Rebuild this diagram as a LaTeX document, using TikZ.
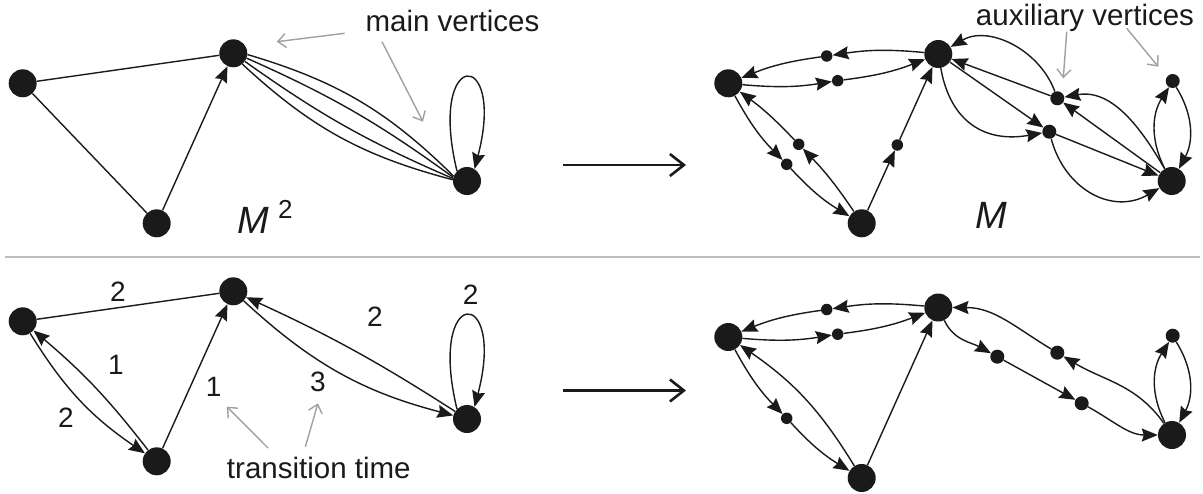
\documentclass[tikz,border=0pt]{standalone}
\usepackage{fontspec}
\setmainfont{Liberation Sans}
\usetikzlibrary{arrows.meta}
\definecolor{nodecol}{RGB}{26,26,26}
\definecolor{graycol}{RGB}{160,160,160}
\definecolor{divcol}{RGB}{190,190,190}
\begin{document}
\begin{tikzpicture}[x=1pt,y=-1pt,
  mainv/.style={circle,fill=nodecol,inner sep=0pt,minimum size=28pt},
  auxs/.style={circle,fill=nodecol,inner sep=0pt,minimum size=11.5pt},
  auxl/.style={circle,fill=nodecol,inner sep=0pt,minimum size=14pt},
  edge/.style={draw=nodecol,line width=1.4pt},
  arr/.style={draw=nodecol,line width=1.4pt,-{Stealth[length=16pt,width=13pt,inset=2pt]}},
  garrow/.style={draw=graycol,line width=1.4pt,-{Straight Barb[length=8pt,width=14pt]}},
  bigarrow/.style={draw=nodecol,line width=2.6pt,-{Straight Barb[length=14pt,width=22pt]}},
  lbl/.style={font=\fontsize{29.5}{34}\selectfont,inner sep=0pt,text=nodecol},
  num/.style={font=\fontsize{28}{32}\selectfont,inner sep=0pt,text=nodecol},
]
\useasboundingbox (0,0) rectangle (1203,493);

% ---------- divider and big arrows ----------
\coordinate (dl) at (5,256.7);
\coordinate (dr) at (1200,256.7);
\draw[divcol,line width=1.6pt] (dl) -- (dr);
\coordinate (bas) at (563,165); \coordinate (bae) at (686,165);
\draw[bigarrow] (bas) -- (bae);
\coordinate (bbs) at (563,390.5); \coordinate (bbe) at (686,390.5);
\draw[bigarrow] (bbs) -- (bbe);

% ---------- top-left: M^2 ----------
\node[mainv] (a1) at (22.7,83.3) {};
\node[mainv] (b1) at (233.3,53.3) {};
\node[mainv] (c1) at (156.7,223.3) {};
\node[mainv] (d1) at (467,181) {};
\draw[edge] (a1) -- (b1);
\draw[edge] (a1) -- (c1);
\draw[arr] (c1) -- (b1);
\draw[edge] (b1.-5) to[bend left=14] (d1.160);
\draw[edge] (b1.-20) to[bend left=6] (d1.165);
\draw[edge] (b1.-35) to[bend right=6] (d1.170);
\draw[edge] (b1.-50) to[bend right=14] (d1.175);
\draw[arr] (d1.135) .. controls +(-30,-124) and +(32,-122) .. (d1.58);
\node[anchor=base west,inner sep=0pt,font=\fontsize{38}{42}\selectfont\itshape,text=nodecol] (m2) at (237,233) {M};
\node[anchor=base west,inner sep=0pt,font=\fontsize{26}{30}\selectfont,text=nodecol] (m2s) at (278,218) {2};
\node[lbl,anchor=base] (tmain) at (452.5,31) {main vertices};
\coordinate (g1s) at (344.6,33.3); \coordinate (g1e) at (276.8,41.7);
\coordinate (g2s) at (382,41.7); \coordinate (g2e) at (423,121.7);
\draw[garrow] (g1s) -- (g1e);
\draw[garrow] (g2s) -- (g2e);

% ---------- top-right: M ----------
\node[mainv] (a2) at (728.3,83.3) {};
\node[mainv] (b2) at (938.3,54) {};
\node[mainv] (c2) at (861.7,223.3) {};
\node[mainv] (d2) at (1171.7,181) {};
\node[auxs] (ua) at (826.7,56) {};
\node[auxs] (ub) at (837.7,80.7) {};
\node[auxs] (uc) at (786.7,164.3) {};
\node[auxs] (ud) at (798.7,144.3) {};
\node[auxs] (ue) at (897.3,145) {};
\node[auxl] (u1) at (1057.3,98.3) {};
\node[auxl] (u2) at (1049.3,131.7) {};
\node[auxl] (u3) at (1172.7,81) {};
\draw[arr] (b2) to[bend right=7] (ua);
\draw[arr] (ua) to[bend right=7] (a2);
\draw[arr] (a2) to[bend right=7] (ub);
\draw[arr] (ub) to[bend right=7] (b2);
\draw[arr] (a2) to[bend right=8] (uc);
\draw[arr] (uc) to[bend right=8] (c2);
\draw[arr] (c2) to[bend right=5] (ud);
\draw[arr] (ud) to[bend right=5] (a2);
\draw[arr] (c2) -- (ue);
\draw[arr] (ue) -- (b2);
\draw[arr] (b2) -- (u2);
\draw[arr] (b2) to[out=-80,in=190,looseness=1.2] (u2);
\draw[arr] (u2) -- (d2);
\draw[arr] (u2) to[out=-75,in=210,looseness=1.15] (d2);
\draw[arr] (d2) -- (u1);
\draw[arr] (d2) to[out=120,in=10] (u1);
\draw[arr] (u1) -- (b2);
\draw[arr] (u1) to[out=110,in=30] (b2);
\draw[arr] (d2) to[bend left=30] (u3);
\draw[arr] (u3) to[bend left=30] (d2);
\node[anchor=base west,inner sep=0pt,font=\fontsize{38}{42}\selectfont\itshape,text=nodecol] (mm) at (975,228) {M};
\node[lbl,anchor=base] (taux) at (1085,25) {auxiliary vertices};
\coordinate (g3s) at (1066.7,31.7); \coordinate (g3e) at (1063.3,78.3);
\coordinate (g4s) at (1126.7,28.3); \coordinate (g4e) at (1158.3,66.7);
\draw[garrow] (g3s) -- (g3e);
\draw[garrow] (g4s) -- (g4e);

% ---------- bottom-left: transition times ----------
\node[mainv] (a4) at (22.7,321.3) {};
\node[mainv] (b4) at (233.3,291.3) {};
\node[mainv] (c4) at (156.7,461.3) {};
\node[mainv] (d4) at (467,419) {};
\draw[edge] (a4) -- (b4);
\draw[arr] (a4) to[bend right=12] (c4);
\draw[arr] (c4) to[bend right=6] (a4);
\draw[arr] (c4) -- (b4);
\draw[arr] (b4) to[bend right=14] (d4);
\draw[arr] (d4) to[bend right=4] (b4);
\draw[arr] (d4.135) .. controls +(-30,-124) and +(32,-122) .. (d4.58);
\node[num] (n1) at (117.9,291.7) {2};
\node[num] (n2) at (116,365) {1};
\node[num] (n3) at (66,418) {2};
\node[num] (n4) at (213.6,386.7) {1};
\node[num] (n5) at (318,381.7) {3};
\node[num] (n6) at (375,316.7) {2};
\node[num] (n7) at (470.7,295) {2};
\node[lbl,anchor=base] (ttrans) at (318.8,478) {transition time};
\coordinate (g5s) at (268,448); \coordinate (g5e) at (226.8,406.7);
\coordinate (g6s) at (305.4,446.7); \coordinate (g6e) at (317.9,403.3);
\draw[garrow] (g5s) -- (g5e);
\draw[garrow] (g6s) -- (g6e);

% ---------- bottom-right ----------
\node[mainv] (a3) at (728.3,337) {};
\node[mainv] (b3) at (938.3,307.5) {};
\node[mainv] (c3) at (861.7,478) {};
\node[mainv] (d3) at (1172,435) {};
\node[auxs] (va) at (826.7,309.5) {};
\node[auxs] (vb) at (837.7,334.2) {};
\node[auxs] (vc) at (786.7,418.3) {};
\node[auxl] (p1) at (997.3,356.7) {};
\node[auxl] (p2) at (1081.7,403.3) {};
\node[auxl] (p3) at (1057.3,352.7) {};
\node[auxl] (p4) at (1172.7,335.7) {};
\draw[arr] (b3) to[bend right=7] (va);
\draw[arr] (va) to[bend right=7] (a3);
\draw[arr] (a3) to[bend right=7] (vb);
\draw[arr] (vb) to[bend right=7] (b3);
\draw[arr] (a3) to[bend right=8] (vc);
\draw[arr] (vc) to[bend right=8] (c3);
\draw[arr] (c3) to[bend right=12] (a3);
\draw[arr] (c3) -- (b3);
\draw[arr] (b3) to[out=-65,in=151] (p1);
\draw[arr] (p1) -- (p2);
\draw[arr] (p2) to[out=-29,in=180] (d3);
\draw[arr] (d3) to[out=125,in=-31] (p3);
\draw[arr] (p3) to[out=149,in=0] (b3);
\draw[arr] (d3) to[bend left=30] (p4);
\draw[arr] (p4) to[bend left=30] (d3);
\end{tikzpicture}
\end{document}
